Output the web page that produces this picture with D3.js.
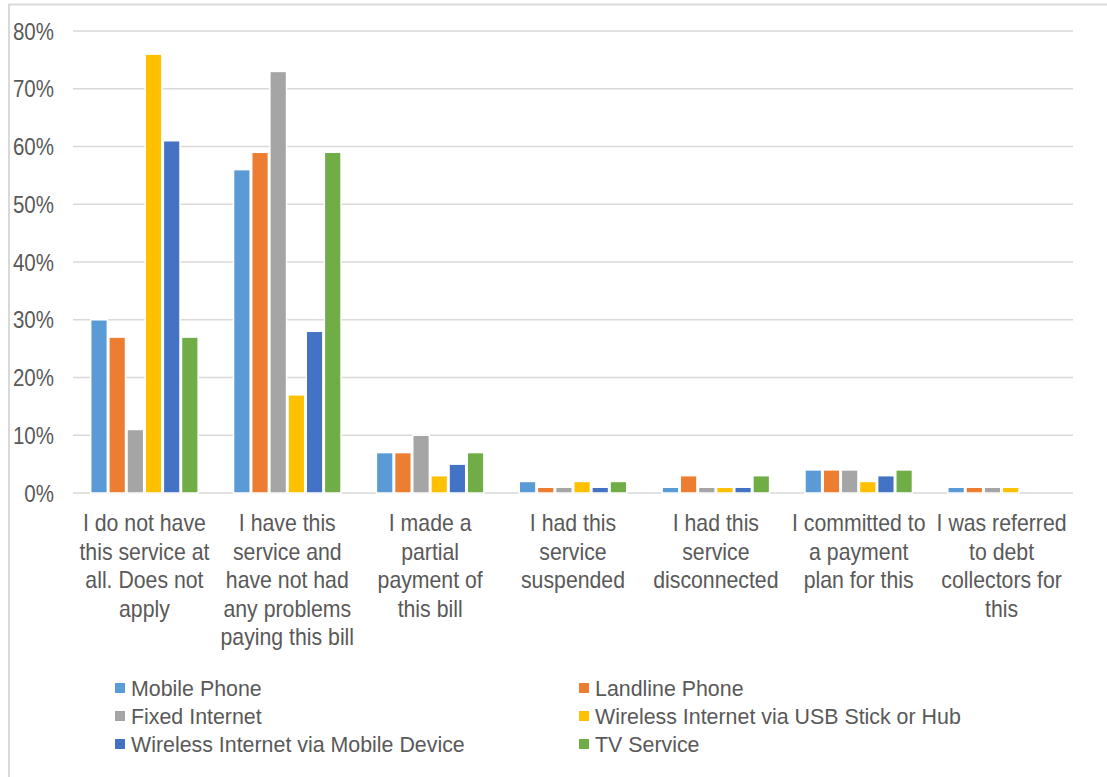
<!DOCTYPE html>
<html>
<head>
<meta charset="utf-8">
<script src="https://cdn.jsdelivr.net/npm/d3@7/dist/d3.min.js"></script>
<style>
  html, body { margin: 0; padding: 0; background: #fff; }
  svg { display: block; }
  text { font-family: "Liberation Sans", Arial, sans-serif; fill: #595959; }
</style>
</head>
<body>
<svg id="chart" width="1107" height="777"></svg>
<script>
// Bill-payment outcomes by type of service (% of respondents)
const categories = [
  ["I do not have", "this service at", "all. Does not", "apply"],
  ["I have this", "service and", "have not had", "any problems", "paying this bill"],
  ["I made a", "partial", "payment of", "this bill"],
  ["I had this", "service", "suspended"],
  ["I had this", "service", "disconnected"],
  ["I committed to", "a payment", "plan for this"],
  ["I was referred", "to debt", "collectors for", "this"]
];
const seriesNames = [
  "Mobile Phone",
  "Landline Phone",
  "Fixed Internet",
  "Wireless Internet via USB Stick or Hub",
  "Wireless Internet via Mobile Device",
  "TV Service"
];
const mobilePhone    = [30, 56, 7, 2, 1, 4, 1];
const landlinePhone  = [27, 59, 7, 1, 3, 4, 1];
const fixedInternet  = [11, 73, 10, 1, 1, 4, 1];
const wirelessUsb    = [76, 17, 3, 2, 1, 2, 1];
const wirelessMobile = [61, 28, 5, 1, 1, 3, 0];
const tvService      = [27, 59, 7, 2, 3, 4, 0];
const seriesValues = [mobilePhone, landlinePhone, fixedInternet, wirelessUsb, wirelessMobile, tvService];
const colors = ["#5B9BD5", "#ED7D31", "#A5A5A5", "#FFC000", "#4472C4", "#70AD47"];
const yTicks = [0, 10, 20, 30, 40, 50, 60, 70, 80];

const svg = d3.select("#chart");

// outer chart frame
svg.append("rect")
  .attr("x", 9).attr("y", 4.5)
  .attr("width", 1120).attr("height", 800)
  .attr("fill", "none").attr("stroke", "#d9d9d9").attr("stroke-width", 2);

const plot = { left: 73, right: 1073, top: 31, bottom: 493 };

const x0 = d3.scaleBand()
  .domain(d3.range(categories.length))
  .range([plot.left, plot.right])
  .paddingInner(0.2372)
  .paddingOuter(0.1186);

const x1 = d3.scaleBand()
  .domain(d3.range(seriesNames.length))
  .range([0, x0.bandwidth()]);

const y = d3.scaleLinear().domain([0, 80]).range([plot.bottom, plot.top]);

// gridlines
svg.append("g")
  .selectAll("line")
  .data(yTicks)
  .join("line")
  .attr("x1", plot.left).attr("x2", plot.right)
  .attr("y1", d => y(d)).attr("y2", d => y(d))
  .attr("stroke", "#d9d9d9").attr("stroke-width", 1.5);

// y tick labels
svg.append("g")
  .selectAll("text")
  .data(yTicks)
  .join("text")
  .attr("transform", d => `translate(54,${y(d) + 8.5}) scale(0.855,1)`)
  .attr("text-anchor", "end")
  .style("font-size", "24px")
  .text(d => d + "%");

// bars
const groups = svg.append("g")
  .selectAll("g")
  .data(categories.map((c, i) => i))
  .join("g")
  .attr("transform", i => `translate(${x0(i)},0)`);

groups.selectAll("rect")
  .data(i => seriesValues.map((vals, s) => ({ s, v: vals[i] })).filter(d => d.v > 0))
  .join("rect")
  .attr("x", d => x1(d.s) + 0.75)
  .attr("width", x1.bandwidth() - 1.5)
  .attr("y", d => y(d.v))
  .attr("height", d => y(0) - y(d.v))
  .attr("fill", d => colors[d.s])
  .attr("stroke", "#fff")
  .attr("stroke-width", 1.5);

// category labels
const catLabels = svg.append("g")
  .selectAll("g")
  .data(categories)
  .join("g")
  .attr("transform", (d, i) => `translate(${x0(i) + x0.bandwidth() / 2},0)`);

catLabels.selectAll("text")
  .data(d => d)
  .join("text")
  .attr("transform", (d, j) => `translate(0,${531 + j * 28.5}) scale(0.925,1)`)
  .attr("text-anchor", "middle")
  .style("font-size", "23px")
  .text(d => d);

// legend
const legendCols = [115, 579];
const legendRows = [688, 716, 744];
const legend = svg.append("g")
  .selectAll("g")
  .data(seriesNames)
  .join("g")
  .attr("transform", (d, i) => `translate(${legendCols[i % 2]},${legendRows[Math.floor(i / 2)]})`);

legend.append("rect")
  .attr("x", 0).attr("y", -5)
  .attr("width", 10).attr("height", 10)
  .attr("fill", (d, i) => colors[i]);

legend.append("text")
  .attr("transform", "translate(16,8) scale(0.93,1)")
  .style("font-size", "23px")
  .text(d => d);
</script>
</body>
</html>
